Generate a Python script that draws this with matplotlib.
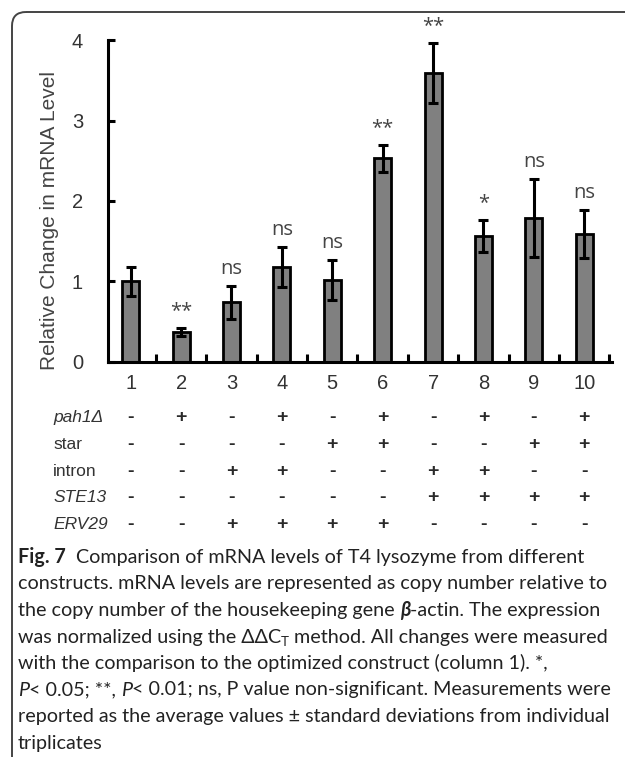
import matplotlib
matplotlib.use("Agg")
import matplotlib.pyplot as plt
import numpy as np
from matplotlib.patches import FancyBboxPatch
from matplotlib.transforms import blended_transform_factory
from matplotlib.ticker import FixedLocator

# ---------------- data ----------------
categories = ['1', '2', '3', '4', '5', '6', '7', '8', '9', '10']
values = [1.00, 0.37, 0.74, 1.18, 1.02, 2.53, 3.59, 1.57, 1.79, 1.59]
errors = [0.18, 0.05, 0.21, 0.25, 0.25, 0.17, 0.37, 0.20, 0.48, 0.30]
significance = ['', '**', 'ns', 'ns', 'ns', '**', '**', '*', 'ns', 'ns']
y_ticks = [0, 1, 2, 3, 4]
y_label = 'Relative Change in mRNA Level'

row_labels = ['pah1Δ', 'star', 'intron', 'STE13', 'ERV29']
row_italic = [True, False, False, True, True]
pah1 = ['-', '+', '-', '+', '-', '+', '-', '+', '-', '+']
star = ['-', '-', '-', '-', '+', '+', '-', '-', '+', '+']
intron = ['-', '-', '+', '+', '-', '-', '+', '+', '-', '-']
ste13 = ['-', '-', '-', '-', '-', '-', '+', '+', '+', '+']
erv29 = ['-', '-', '+', '+', '+', '+', '-', '-', '-', '-']
table_rows = [pah1, star, intron, ste13, erv29]

caption_lines = [
    [("Fig. 7", "b"), ("  Comparison of mRNA levels of T4 lysozyme from different", "n")],
    [("constructs. mRNA levels are represented as copy number relative to", "n")],
    [("the copy number of the housekeeping gene ", "n"), ("β", "bi"), ("-actin. The expression", "n")],
    [("was normalized using the ΔΔC", "n"), ("T", "sub"), (" method. All changes were measured", "n")],
    [("with the comparison to the optimized construct (column 1). *,", "n")],
    [("P", "i"), ("< 0.05; **, ", "n"), ("P", "i"), ("< 0.01; ns, P value non-significant. Measurements were", "n")],
    [("reported as the average values ± standard deviations from individual", "n")],
    [("triplicates", "n")],
]

# ---------------- figure ----------------
W, H = 625, 757
fig = plt.figure(figsize=(W / 100, H / 100), dpi=100)
fig.patch.set_facecolor('white')

# overlay in pixel coordinates
ov = fig.add_axes([0, 0, 1, 1])
ov.set_xlim(0, W)
ov.set_ylim(H, 0)
ov.axis('off')

# rounded frame (left + top visible)
frame = FancyBboxPatch((12, 12), 800, 800, boxstyle='round,pad=0,rounding_size=14',
                       fill=False, edgecolor='#444444', linewidth=1.4)
ov.add_patch(frame)

# main axes
ax_left, ax_right, ax_top, ax_bottom = 108, 612, 40, 362
ax = fig.add_axes([ax_left / W, (H - ax_bottom) / H, (ax_right - ax_left) / W, (ax_bottom - ax_top) / H])
ax.patch.set_visible(False)

x = np.arange(1, len(categories) + 1)
ax.bar(x, values, width=0.34, color='#808080', edgecolor='black', linewidth=2.0, zorder=2)
ax.errorbar(x, values, yerr=errors, fmt='none', ecolor='black', elinewidth=2.2,
            capsize=3.8, capthick=2.2, zorder=3)

ax.set_xlim(0.55, 10.55)
ax.set_ylim(0, 4)
for s in ['top', 'right']:
    ax.spines[s].set_visible(False)
for s in ['left', 'bottom']:
    ax.spines[s].set_linewidth(2.2)
    ax.spines[s].set_color('black')

ax.set_yticks(y_ticks)
ax.set_yticklabels([str(t) for t in y_ticks])
ax.tick_params(axis='y', direction='in', length=5, width=2.2, pad=18,
               labelsize=14.5, labelcolor='#333333')
ax.set_xticks(x)
ax.set_xticklabels(categories)
ax.tick_params(axis='x', which='major', length=0, pad=9, labelsize=14.5, labelcolor='#333333')
ax.xaxis.set_minor_locator(FixedLocator(np.arange(1.5, 11.0, 1.0)))
ax.tick_params(axis='x', which='minor', direction='in', length=6, width=2.2)
for lab in ax.get_xticklabels() + ax.get_yticklabels():
    lab.set_family('Liberation Sans')

# significance labels
for xi, v, e, s in zip(x, values, errors, significance):
    if s:
        ax.annotate(s, xy=(xi, v + e), xytext=(0, 5), textcoords='offset points',
                    ha='center', va='bottom', fontsize=14.5, family='Open Sans',
                    color='#444444', annotation_clip=False)

# y label
ov.text(50, 221, y_label, rotation=90, ha='center', va='center', fontsize=15,
        family='Liberation Sans', color='#444444')

# table beneath the chart
tr = blended_transform_factory(ax.transData, ov.transData)
row_y0, row_dy = 417.5, 26.8
for i, (lab, it, row) in enumerate(zip(row_labels, row_italic, table_rows)):
    yy = row_y0 + i * row_dy
    ov.text(53, yy, lab, ha='left', va='center', fontsize=12.5, family='Liberation Sans',
            style='italic' if it else 'normal', color='#333333')
    for xi, sym in zip(x, row):
        ax.text(xi, yy, sym, transform=tr, ha='center', va='center', fontsize=14,
                family='Liberation Sans', fontweight='bold', color='#2a2a2a', clip_on=False)

# caption
renderer = fig.canvas.get_renderer()
CAP_FONT = 'Lato'
CAP_COLOR = '#222222'


def text_width(s, **kw):
    t = ov.text(0, 0, s, **kw)
    w = t.get_window_extent(renderer).width
    t.remove()
    return w


plain = [''.join(seg for seg, _ in line) for line in caption_lines]
base = 10.0
maxw = max(text_width(p, fontsize=base, family=CAP_FONT) for p in plain)
cap_size = base * 594.0 / maxw
space_w = text_width('a a', fontsize=cap_size, family=CAP_FONT) - text_width('aa', fontsize=cap_size, family=CAP_FONT)

cap_x0, cap_y0, cap_dy = 18, 563, 26.5
for i, line in enumerate(caption_lines):
    xx = cap_x0
    yy = cap_y0 + i * cap_dy
    for seg, style in line:
        kw = dict(fontsize=cap_size, family=CAP_FONT, color=CAP_COLOR, ha='left', va='baseline')
        dy = 0
        if style == 'b':
            kw['fontweight'] = 'bold'
        elif style == 'i':
            kw['fontstyle'] = 'italic'
        elif style == 'bi':
            kw['fontweight'] = 'bold'
            kw['fontstyle'] = 'italic'
        elif style == 'sub':
            kw['fontsize'] = cap_size * 0.68
            dy = 4
        lead = len(seg) - len(seg.lstrip(' '))
        trail = len(seg) - len(seg.rstrip(' '))
        core = seg.strip(' ')
        xx += lead * space_w
        t = ov.text(xx, yy + dy, core, **kw)
        xx += t.get_window_extent(renderer).width + trail * space_w

fig.savefig('out.png', dpi=100, facecolor='white')
